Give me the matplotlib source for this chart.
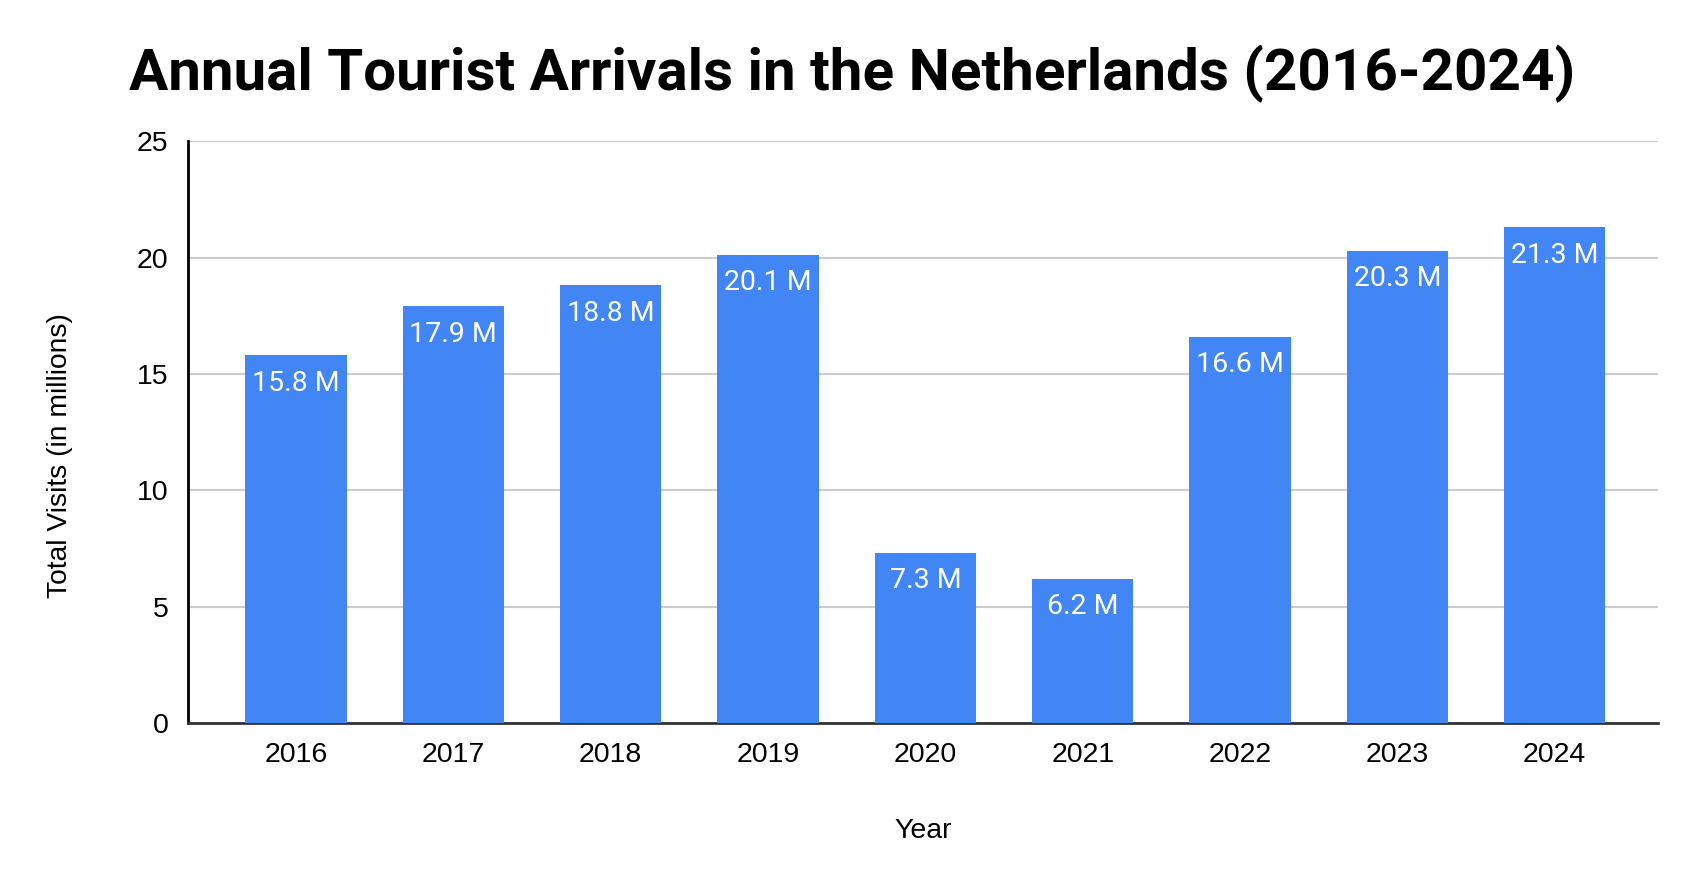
import matplotlib
matplotlib.use("Agg")
import matplotlib.pyplot as plt

years = ["2016", "2017", "2018", "2019", "2020", "2021", "2022", "2023", "2024"]
visits = [15.8, 17.9, 18.8, 20.1, 7.3, 6.2, 16.6, 20.3, 21.3]
labels = ["15.8 M", "17.9 M", "18.8 M", "20.1 M", "7.3 M", "6.2 M", "16.6 M", "20.3 M", "21.3 M"]
yticks = [0, 5, 10, 15, 20, 25]

plt.rcParams["font.family"] = ["Liberation Sans", "DejaVu Sans"]

fig = plt.figure(figsize=(16.94, 8.88), dpi=100)
ax = fig.add_axes([0.111, 0.186, 0.868, 0.655])

x = list(range(len(years)))
ax.bar(x, visits, width=0.645, color="#4285F4", zorder=3)

for xi, v, lab in zip(x, visits, labels):
    ax.annotate(lab, (xi, v), xytext=(0, -20), textcoords="offset points",
                ha="center", va="center", color="white", fontsize=20.5,
                family="Roboto", zorder=4)

ax.set_xlim(-0.686, len(years) - 1 + 0.659)
ax.set_ylim(0, 25)
ax.set_yticks(yticks)
ax.set_xticks(x)
ax.set_xticklabels(years)
ax.tick_params(axis="both", length=0, labelsize=20.5, colors="black")
ax.tick_params(axis="x", pad=14)
ax.tick_params(axis="y", pad=14)

ax.yaxis.grid(True, color="#cccccc", linewidth=1.5, zorder=0)
ax.spines["top"].set_visible(False)
ax.spines["right"].set_visible(False)
ax.spines["left"].set_linewidth(2)
ax.spines["bottom"].set_linewidth(2)
ax.spines["bottom"].set_color("#333333")

ax.set_ylabel("Total Visits (in millions)", fontsize=20.3)
ax.yaxis.set_label_coords(-0.078, 0.46)
ax.set_xlabel("Year", fontsize=20.5, labelpad=36)

fig.text(0.503, 0.917, "Annual Tourist Arrivals in the Netherlands (2016-2024)",
         ha="center", va="center", fontsize=42, fontweight="bold", family="Roboto")

fig.savefig("out.png", dpi=100, facecolor="white")
